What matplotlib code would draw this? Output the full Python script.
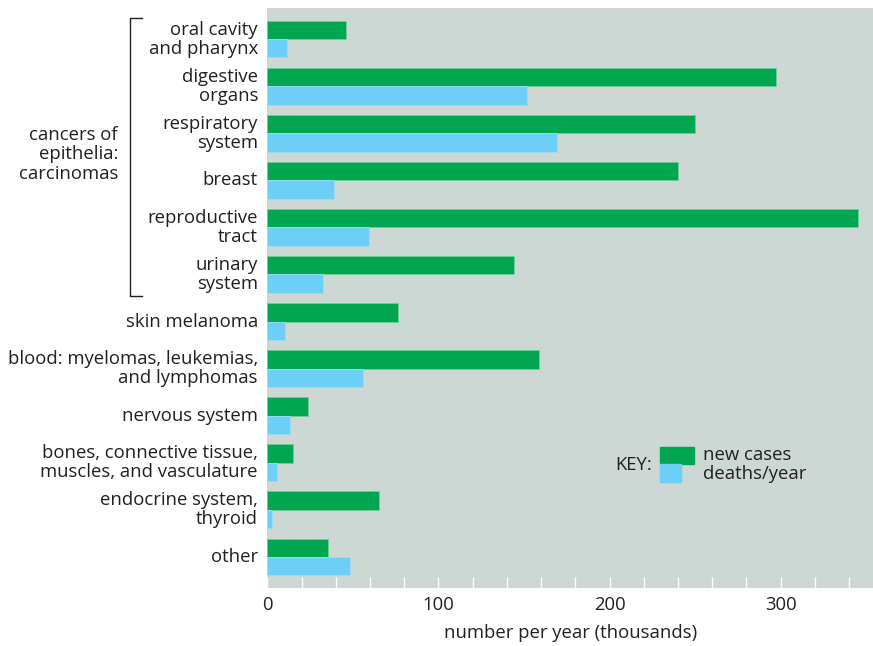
import matplotlib

matplotlib.use("Agg")
import matplotlib.pyplot as plt
import matplotlib.transforms as mtransforms
import numpy as np

plt.rcParams["font.family"] = ["Open Sans", "DejaVu Sans"]

labels = [
    "oral cavity\nand pharynx",
    "digestive\norgans",
    "respiratory\nsystem",
    "breast",
    "reproductive\ntract",
    "urinary\nsystem",
    "skin melanoma",
    "blood: myelomas, leukemias,\nand lymphomas",
    "nervous system",
    "bones, connective tissue,\nmuscles, and vasculature",
    "endocrine system,\nthyroid",
    "other",
]
new_cases = [45.8, 297.4, 250, 240.2, 345.3, 144.3, 76.4, 158.9, 23.6, 15.2, 65.5, 35.7]
deaths = [11.3, 151.9, 169.4, 39, 59.5, 32.6, 10.3, 56.1, 13.3, 5.8, 2.7, 48.4]
group_label = "cancers of\nepithelia:\ncarcinomas"
group_rows = (0, 5)

green = "#00a650"
blue = "#6dcff6"
bg = "#cdd7d3"
txt = "#231f20"
fs = 13.3

fig = plt.figure(figsize=(8.73, 6.46), dpi=100)
ax = fig.add_axes([0.3062, 0.0898, 0.6938, 0.8978])
ax.set_facecolor(bg)

y = np.arange(len(labels))
h = 0.39
ax.barh(y - h / 2, new_cases, height=h, color=green, edgecolor="#6fcf98", linewidth=0.6)
ax.barh(y + h / 2, deaths, height=h, color=blue, edgecolor="#9ddcf5", linewidth=0.6)

ax.set_xlim(0, 354)
ax.set_ylim(len(labels) - 1 + 0.66, -0.66)

for s in ax.spines.values():
    s.set_visible(False)

ax.set_xticks([0, 100, 200, 300])
ax.set_xticks(np.arange(20, 354, 20), minor=True)
ax.tick_params(axis="x", which="both", direction="in", color="white", length=8,
               width=1, labelsize=fs, labelcolor=txt, pad=6)
ax.set_yticks([])
ax.set_xlabel("number per year (thousands)", fontsize=fs, color=txt, labelpad=7)

trans = mtransforms.blended_transform_factory(fig.transFigure, ax.transData)
for yi, lab in zip(y, labels):
    ax.text(258 / 873, yi, lab, transform=trans, ha="right", va="center",
            fontsize=fs, color=txt, linespacing=1.08)

# bracket for the carcinoma group
top = group_rows[0] - 0.45
bot = group_rows[1] + 0.45
bx, bx2 = 130 / 873, 142 / 873
ax.plot([bx2, bx, bx, bx2], [top, top, bot, bot], transform=trans, color=txt,
        lw=1, clip_on=False)
ax.text(118 / 873, 2.45, group_label,
        transform=trans, ha="right", va="center", fontsize=fs, color=txt,
        linespacing=1.08)

# key
fig.text(652 / 873, 1 - 465 / 646, "KEY:", ha="right", va="center", fontsize=fs, color=txt)
fig.patches.append(plt.Rectangle((660 / 873, 1 - 464 / 646), 34 / 873, 17 / 646,
                                 transform=fig.transFigure, color=green))
fig.patches.append(plt.Rectangle((660 / 873, 1 - 482 / 646), 21 / 873, 18 / 646,
                                 transform=fig.transFigure, color=blue))
fig.text(703 / 873, 1 - 455 / 646, "new cases", ha="left", va="center", fontsize=fs, color=txt)
fig.text(703 / 873, 1 - 474 / 646, "deaths/year", ha="left", va="center", fontsize=fs, color=txt)

fig.savefig("out.png", dpi=100)
